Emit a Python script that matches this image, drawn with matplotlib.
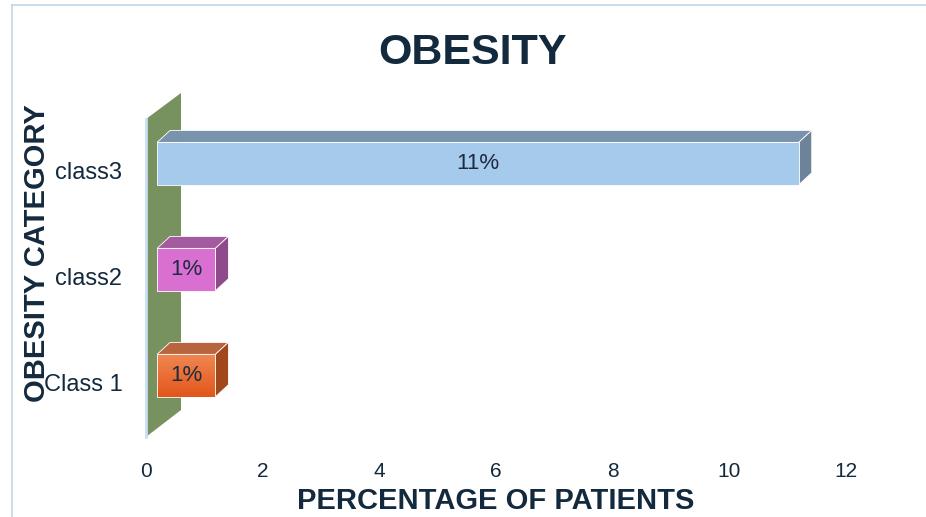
import numpy as np
import matplotlib.pyplot as plt
from matplotlib.patches import Polygon, Rectangle
from matplotlib.colors import LinearSegmentedColormap

categories = ['Class 1', 'class2', 'class3']
values = [1, 1, 11]
bar_labels = ['1%', '1%', '11%']
xticks = [0, 2, 4, 6, 8, 10, 12]

# colours: front, top, side
front_cols = ['#EC6A2C', '#DA6FD2', '#A6CAEC']
top_cols = ['#B8653F', '#A45A9E', '#7A93AC']
side_cols = ['#A0481C', '#8E4A8A', '#6C8399']

navy = '#13293D'
plt.rcParams['font.family'] = ['Liberation Sans', 'DejaVu Sans']

fig = plt.figure(figsize=(9.26, 5.17), dpi=100)
ax = fig.add_axes([146/926, 77/517, 700/926, 352/517])

# outer frame (light blue)
fig.add_artist(plt.Line2D([12/926, 12/926], [0, 1 - 5/517], transform=fig.transFigure, color='#BDD7EE', lw=1.2))
fig.add_artist(plt.Line2D([12/926, 1], [1 - 5/517, 1 - 5/517], transform=fig.transFigure, color='#BDD7EE', lw=1.2))

# back wall
wall = Polygon([(0.0, -0.509), (0.0, 2.49), (0.6, 2.736), (0.6, -0.255)], closed=True,
               facecolor='#77925F', edgecolor='none', clip_on=False, zorder=1)
ax.add_patch(wall)
ax.plot([0.0, 0.0], [-0.509, 2.49], color='#C9DDF2', lw=2, clip_on=False, zorder=1)

x0 = 0.19
dx = 0.223
dy = 0.113
h = 0.40
off = 0.07
for i, v in enumerate(values):
    yc = i + off
    yb, yt = yc - h/2, yc + h/2
    x1 = x0 + v
    top = Polygon([(x0, yt), (x0 + dx, yt + dy), (x1 + dx, yt + dy), (x1, yt)], closed=True,
                  facecolor=top_cols[i], edgecolor='white', lw=0.6, clip_on=False, zorder=3)
    side = Polygon([(x1, yb), (x1, yt), (x1 + dx, yt + dy), (x1 + dx, yb + dy)], closed=True,
                   facecolor=side_cols[i], edgecolor='white', lw=0.6, clip_on=False, zorder=3)
    ax.add_patch(top)
    ax.add_patch(side)
    if i == 0:
        cmap = LinearSegmentedColormap.from_list('o', ['#F08752', '#E2561A'])
        grad = np.linspace(0, 1, 50).reshape(-1, 1)
        ax.imshow(grad, cmap=cmap, extent=(x0, x1, yb, yt), aspect='auto', origin='upper', zorder=3)
        ax.add_patch(Rectangle((x0, yb), v, h, facecolor='none', edgecolor='white', lw=0.6, zorder=4))
    else:
        ax.add_patch(Rectangle((x0, yb), v, h, facecolor=front_cols[i], edgecolor='white', lw=0.6, zorder=3))
    ax.text(x0 + v/2, yc, bar_labels[i], ha='center', va='center', fontsize=16, color='#1E2A40', zorder=5)

ax.set_xlim(0, 12)
ax.set_ylim(-0.538, 2.783)
ax.set_xticks(xticks)
ax.set_xticklabels([str(t) for t in xticks], fontsize=15, color=navy)
ax.set_yticks(range(len(categories)))
ax.set_yticklabels(categories, fontsize=17, color=navy)
ax.tick_params(axis='both', length=0)
ax.tick_params(axis='x', pad=16)
ax.tick_params(axis='y', pad=17)
for s in ax.spines.values():
    s.set_visible(False)

ax.set_title('OBESITY', fontsize=31, fontweight='bold', color=navy, pad=17)
ax.title.set_x(0.466)
ax.set_xlabel('PERCENTAGE OF PATIENTS', fontsize=21, fontweight='bold', color=navy, labelpad=4)
ax.set_ylabel('OBESITY CATEGORY', fontsize=21, fontweight='bold', color=navy)
ax.yaxis.set_label_coords(-95/700, 0.53)

fig.savefig('out.png', dpi=100)
